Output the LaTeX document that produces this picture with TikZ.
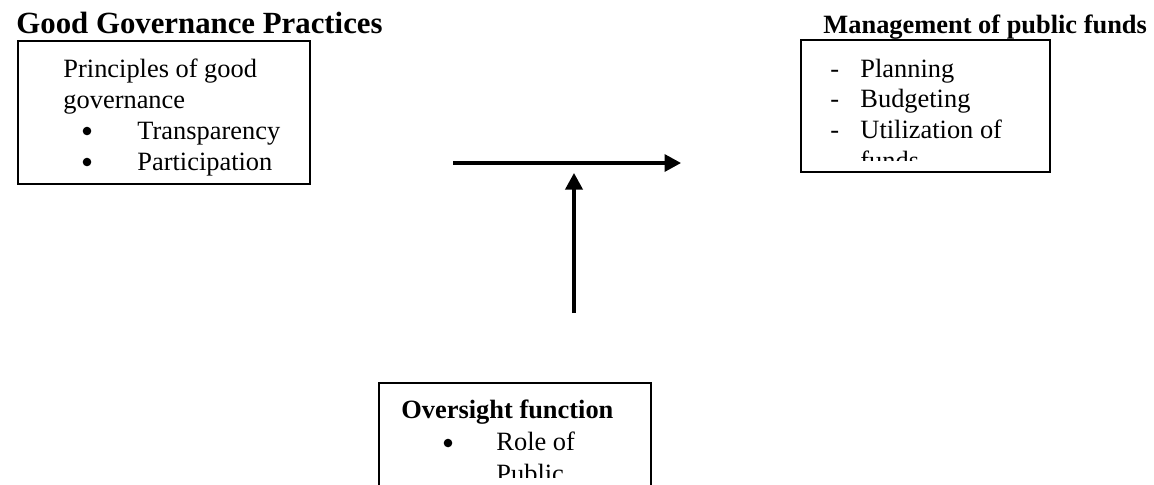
\documentclass[tikz,border=0pt]{standalone}
\usepackage{fontspec}
\setmainfont{Liberation Serif}
\usetikzlibrary{positioning}
\usetikzlibrary{arrows.meta,shapes}
\usetikzlibrary{fit,calc}
\tikzstyle{box}=[draw=black,line width=0.8pt,inner sep=0pt]
\tikzstyle{line}=[anchor=base west,inner sep=0pt,font=\fontsize{12}{14}\selectfont]
\tikzstyle{heading}=[anchor=base west,inner sep=0pt,font=\fontsize{12}{14}\selectfont\bfseries]
\tikzstyle{bigheading}=[anchor=base west,inner sep=0pt,font=\fontsize{14}{16}\selectfont\bfseries]
\tikzstyle{bullet}=[circle,fill=black,inner sep=0pt,minimum size=3.9pt]
\tikzstyle{edge} = [draw,line width=1.4pt,-{Triangle[length=7.5pt,width=7.8pt]}]

\begin{document}
\begin{tikzpicture}[x=0.4545pt,y=-0.4545pt]
\useasboundingbox (0,0) rectangle (1154,484);

    % headings
    \node[bigheading] (title) at (16,33) {Good Governance Practices};
    \node[heading] (fundstitle) at (823,33) {Management of public funds};

    % the three boxes
    \foreach \a/\b/\name in {{(18,41)/(310,184)/principles}, {(801,40)/(1050,172)/funds}, {(379,383)/(651,520)/oversight}}
        \node[box,fit={\a \b}] (\name) {};

    % principles box
    \begin{scope}
      \clip (18,41) rectangle (310,175);
      \foreach \pos/\name/\label in {{(63,77)/prin/Principles of good}, {(63,108)/gov/governance}, {(137,139)/transp/Transparency}, {(137,170)/partic/Participation}}
        \node[line] (\name) at \pos {\label};
      \foreach \pos/\name in {{(87,131)/bultransp}, {(87,162)/bulpartic}}
        \node[bullet] (\name) at \pos {};
    \end{scope}

    % funds box
    \begin{scope}
      \clip (801,40) rectangle (1050,160);
      \foreach \pos/\name/\label in {{(860,77)/plan/Planning}, {(860,107)/budget/Budgeting}, {(860,138)/util/Utilization of}, {(860,169)/fundsword/funds}}
        \node[line] (\name) at \pos {\label};
      \foreach \y/\name in {77/dashplan, 107/dashbudget, 138/dashutil}
        \node[line] (\name) at (830,\y) {-};
    \end{scope}

    % oversight box
    \begin{scope}
      \clip (379,383) rectangle (651,477);
      \node[heading] (oversighttitle) at (401,418) {Oversight function};
      \foreach \pos/\name/\label in {{(496,450)/role/Role of}, {(496,482)/public/Public}}
        \node[line] (\name) at \pos {\label};
      \node[bullet] (bulrole) at (448,443) {};
    \end{scope}

    % arrows
    \coordinate (hfrom) at (453,163);
    \coordinate (hto) at (681,163);
    \coordinate (vfrom) at (574,313);
    \coordinate (vto) at (574,173);
    \path[edge] (hfrom) -- (hto);
    \path[edge] (vfrom) -- (vto);

\end{tikzpicture}
\end{document}
